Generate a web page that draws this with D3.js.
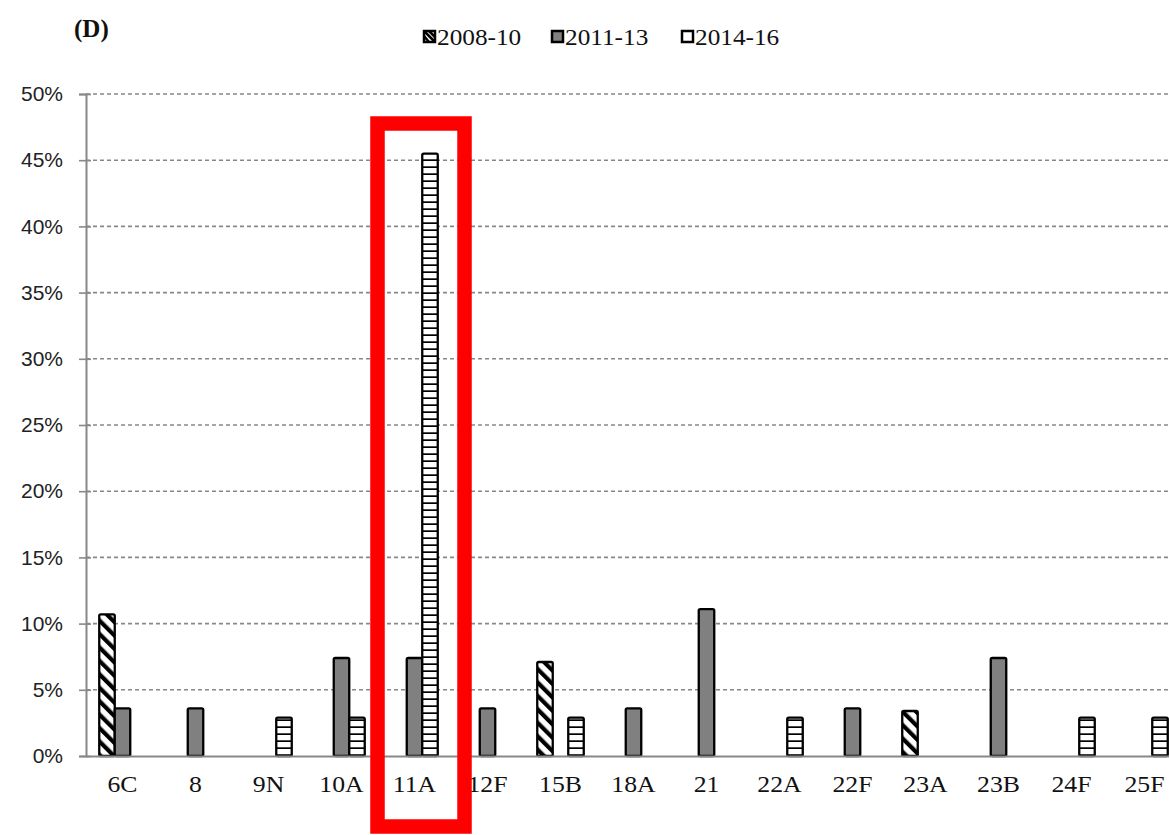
<!DOCTYPE html>
<html><head><meta charset="utf-8">
<script src="https://cdn.jsdelivr.net/npm/d3@7"></script>
<style>body{margin:0;background:#fff;} svg{display:block;}</style>
</head><body>
<svg id="c" width="1169" height="835"></svg>
<script>
const categories = ["6C","8","9N","10A","11A","12F","15B","18A","21","22A","22F","23A","23B","24F","25F"];
const seriesNames = ["2008-10","2011-13","2014-16"];
const s2008 = [10.7,0,0,0,0,0,7.1,0,0,0,0,3.4,0,0,0];
const s2011 = [3.6,3.6,0,7.4,7.4,3.6,0,3.6,11.1,0,3.6,0,7.4,0,0];
const s2014 = [0,0,2.9,2.9,45.5,0,2.9,0,0,2.9,0,0,0,2.9,2.9];
const yTicks = [0,5,10,15,20,25,30,35,40,45,50];
const seriesValues = [s2008, s2011, s2014];

const svg = d3.select("#c");
const serif = "'Liberation Serif','Times New Roman',serif";
const sans = "'Liberation Sans',Arial,sans-serif";
const x0 = 86, step = 73;
const x = d3.scaleBand().domain(categories).range([x0, x0 + step*categories.length]).padding(0);
const y = d3.scaleLinear().domain([0,50]).range([756,94]);
const gw = 46.5;
const xs = d3.scaleBand().domain(seriesNames).range([(x.bandwidth()-gw)/2, (x.bandwidth()+gw)/2]).padding(0);

const defs = svg.append("defs");
const p1 = defs.append("pattern").attr("id","diag").attr("patternUnits","userSpaceOnUse")
  .attr("width",9.5).attr("height",9.5).attr("patternTransform","rotate(-45)");
p1.append("rect").attr("width",9.5).attr("height",9.5).attr("fill","#fff");
p1.append("rect").attr("x",0).attr("y",0).attr("width",4.2).attr("height",9.5).attr("fill","#000");
const p3 = defs.append("pattern").attr("id","horiz").attr("patternUnits","userSpaceOnUse")
  .attr("width",10).attr("height",7);
p3.append("rect").attr("width",10).attr("height",7).attr("fill","#fff");
p3.append("rect").attr("x",0).attr("y",5.3).attr("width",10).attr("height",2).attr("fill","#000");
const fills = ["url(#diag)","#808080","url(#horiz)"];

// gridlines
svg.append("g").selectAll("line").data(yTicks.filter(d=>d>0)).join("line")
  .attr("x1",x0).attr("x2",1169).attr("y1",d=>y(d)).attr("y2",d=>y(d))
  .attr("stroke","#888").attr("stroke-width",1.6).attr("stroke-dasharray","4,3");

// y axis
const ya = svg.append("g").attr("transform",`translate(${x0},0)`)
  .call(d3.axisLeft(y).tickValues(yTicks).tickFormat(d=>d+"%").tickSize(7).tickPadding(16));
ya.select(".domain").attr("stroke","#888").attr("stroke-width",2);
ya.selectAll(".tick line").attr("stroke","#888").attr("stroke-width",1.6).attr("x2",-7).attr("x1",5);
ya.selectAll("text").attr("font-family",sans).attr("font-size",21).attr("fill","#222");

// bars
const g = svg.append("g");
categories.forEach((c,i)=>{
  seriesNames.forEach((s,k)=>{
    const v = seriesValues[k][i];
    if(v<=0) return;
    g.append("rect").attr("x",x(c)+xs(s)).attr("y",y(v)).attr("width",xs.bandwidth()).attr("height",y(0)-y(v))
      .attr("fill",fills[k]).attr("stroke","#000").attr("stroke-width",2.3).attr("rx",1.5);
  });
});

// x axis
const xa = svg.append("g").attr("transform","translate(0,756)")
  .call(d3.axisBottom(x).tickSize(0).tickPadding(20));
xa.select(".domain").attr("stroke","#888").attr("stroke-width",2);
xa.selectAll("text").attr("font-family",serif).attr("font-size",23).attr("fill","#111")
  .attr("dy","0.3em").attr("y",29).attr("transform","scale(1.12,1)");

// legend
const leg = svg.append("g").attr("transform","translate(423,37)");
const lw = [0,128,258];
seriesNames.forEach((s,k)=>{
  const gg = leg.append("g").attr("transform",`translate(${lw[k]},0)`);
  gg.append("rect").attr("x",1).attr("y",-6).attr("width",11).attr("height",11)
    .attr("fill",k===1?"#808080":"#fff").attr("stroke","#000").attr("stroke-width",2.5);
  if(k===0){
    gg.append("path").attr("d","M1,-6 L12,5 M1,-1 L6,5 M6,-6 L12,0").attr("stroke","#000").attr("stroke-width",2.5);
  }
  gg.append("text").attr("x",14).attr("y",8).text(s).attr("font-family",serif).attr("font-size",23)
    .attr("fill","#111").attr("transform","scale(1.1,1)").attr("x",14/1.1);
});

// panel label
svg.append("text").attr("x",74).attr("y",37).text("(D)").attr("font-family",serif)
  .attr("font-weight","bold").attr("font-size",25).attr("fill","#111");

// highlight box
svg.append("rect").attr("x",377.5).attr("y",123.5).attr("width",87).attr("height",703)
  .attr("fill","none").attr("stroke","#ff0000").attr("stroke-width",14.5);
</script>
</body></html>
